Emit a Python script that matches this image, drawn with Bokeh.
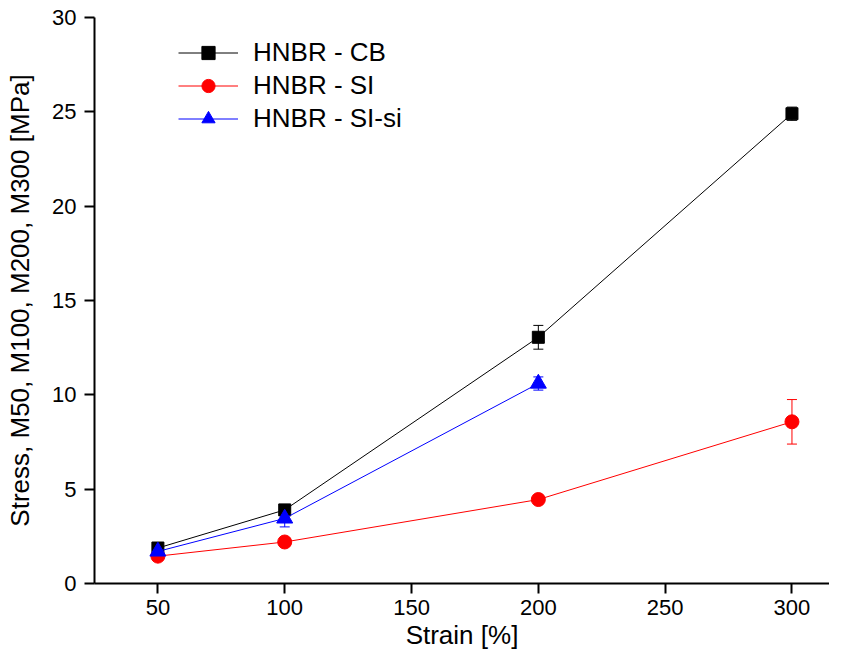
from bokeh.plotting import figure
from bokeh.models import (ColumnDataSource, Whisker, TeeHead, Legend, LegendItem,
                          Range1d, FixedTicker)
from bokeh.embed import file_html
from bokeh.resources import INLINE

# ---- data ----
strain_cb = [50, 100, 200, 300]
stress_cb = [1.88, 3.9, 13.05, 24.9]
err_cb = [0.1, 0.15, 0.63, 0.35]

strain_si = [50, 100, 200, 300]
stress_si = [1.45, 2.2, 4.45, 8.57]
err_si = [0.1, 0.1, 0.15, 1.18]

strain_sisi = [50, 100, 200]
stress_sisi = [1.7, 3.45, 10.6]
err_sisi = [0.15, 0.45, 0.35]

labels = ["HNBR - CB", "HNBR - SI", "HNBR - SI-si"]
colors = ["#000000", "#ff0000", "#0000ff"]
markers = ["square", "circle", "triangle"]
msizes = [12, 14, 16]

x_ticks = [50, 100, 150, 200, 250, 300]
y_ticks = [0, 5, 10, 15, 20, 25, 30]

FONT = "Liberation Sans"

p = figure(width=829, height=652, output_backend="svg", toolbar_location=None,
           x_range=Range1d(25, 314.8), y_range=Range1d(0, 30),
           min_border_left=94, min_border_top=17, min_border_right=0,
           min_border_bottom=69)
p.outline_line_color = None
p.xgrid.visible = False
p.ygrid.visible = False
p.background_fill_color = "white"

for ax in (p.xaxis[0], p.yaxis[0]):
    ax.axis_line_width = 2
    ax.major_tick_line_width = 2
    ax.major_tick_out = 10
    ax.major_tick_in = 0
    ax.minor_tick_out = 0
    ax.minor_tick_in = 0
    ax.major_label_text_font = FONT
    ax.major_label_text_font_size = "22px"
    ax.major_label_text_color = "black"
    ax.axis_label_text_font = FONT
    ax.axis_label_text_font_size = "26px"
    ax.axis_label_text_font_style = "normal"
    ax.axis_label_text_color = "black"

p.xaxis.ticker = FixedTicker(ticks=x_ticks)
p.yaxis.ticker = FixedTicker(ticks=y_ticks)
p.xaxis.axis_label = "Strain [%]"
p.yaxis.axis_label = "Stress, M50, M100, M200, M300 [MPa]"
p.xaxis.major_label_standoff = 6
p.yaxis.major_label_standoff = 8
p.xaxis.axis_label_standoff = 2
p.yaxis.axis_label_standoff = 14

series = [
    (strain_cb, stress_cb, err_cb),
    (strain_si, stress_si, err_si),
    (strain_sisi, stress_sisi, err_sisi),
]

items = []
for (xs, ys, es), lab, col, mk, ms in zip(series, labels, colors, markers, msizes):
    src = ColumnDataSource(dict(
        x=xs, y=ys,
        upper=[y + e for y, e in zip(ys, es)],
        lower=[y - e for y, e in zip(ys, es)],
    ))
    wh = Whisker(source=src, base="x", upper="upper", lower="lower",
                 line_color=col, line_width=1,
                 upper_head=TeeHead(size=10, line_color=col, line_width=1),
                 lower_head=TeeHead(size=10, line_color=col, line_width=1))
    p.add_layout(wh)
    lr = p.line("x", "y", source=src, line_color=col, line_width=1)
    mr = p.scatter("x", "y", source=src, marker=mk, size=ms,
                   fill_color=col, line_color=col)
    items.append(LegendItem(label=lab, renderers=[lr, mr]))

legend = Legend(items=items, location=(84, 448),
                glyph_width=60, glyph_height=33, label_height=33,
                label_standoff=15, spacing=0, padding=0, margin=0,
                border_line_color=None, background_fill_alpha=0,
                label_text_font=FONT, label_text_font_size="26px",
                label_text_color="black")
p.add_layout(legend)

open("out.html", "w").write(file_html(p, INLINE))
